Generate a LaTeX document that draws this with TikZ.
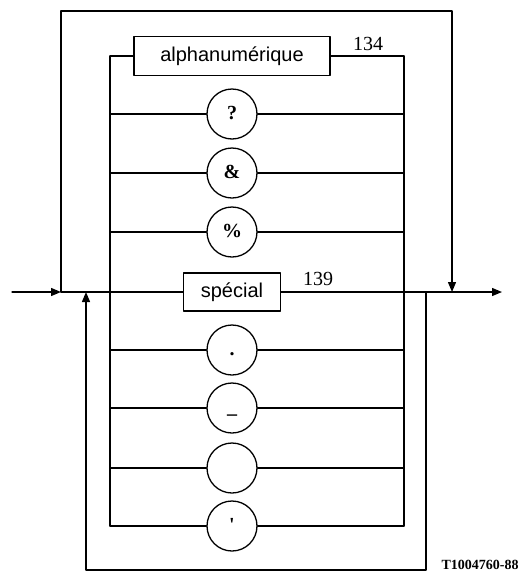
\documentclass[tikz,border=0pt]{standalone}
\usepackage{fontspec}
\setmainfont{Liberation Serif}
\setsansfont{Liberation Sans}
\usetikzlibrary{arrows.meta}

\begin{document}
\begin{tikzpicture}[x=1pt,y=-1pt,line cap=round,line join=round,line width=1.3pt,
  >={Triangle[length=10pt,width=8pt]},
  term/.style={draw,circle,minimum size=50pt,inner sep=0pt,text height=14pt,text depth=4pt,
    font=\fontsize{20}{20}\selectfont\bfseries},
  nonterm/.style={draw,rectangle,inner sep=0pt,font=\sffamily\fontsize{20}{20}\selectfont},
  refnum/.style={inner sep=0pt,font=\fontsize{20}{20}\selectfont}]
  \useasboundingbox (0,0) rectangle (520,579);
  \coordinate (In) at (12,292);
  \coordinate (Out) at (502,292);
  \coordinate (SL) at (61,292);
  \coordinate (ST) at (61,11);
  \coordinate (STR) at (452,11);
  \coordinate (SR) at (452,292);
  \coordinate (RL) at (86,292);
  \coordinate (RB) at (86,570);
  \coordinate (RBR) at (426,570);
  \coordinate (RR) at (426,292);
  \coordinate (AL) at (110,56);
  \coordinate (ALB) at (110,526);
  \coordinate (AR) at (404,56);
  \coordinate (ARB) at (404,526);
  \node[nonterm,minimum width=196pt,minimum height=39pt] (A) at (232,56) {alphanumérique};
  \node[nonterm,minimum width=97pt,minimum height=38pt] (S) at (232,292) {spécial};
  \node[refnum] (nA) at (368,44) {134};
  \node[refnum] (nS) at (318,279) {139};
  \node[term] (q) at (232,114) {?};
  \node[term] (amp) at (232,173) {\&};
  \node[term] (pct) at (232,232) {\%};
  \node[term] (dot) at (232,350) {.};
  \node[term] (us) at (232,408) {\_};
  \node[term] (sp) at (232,468) {};
  \node[term] (ap) at (232,526) {\textquotesingle};
  \node[inner sep=0pt,font=\fontsize{14}{14}\selectfont\bfseries] (code) at (480,565) {T1004760-88};
  \draw[->] (In) -- (SL);
  \draw (SL) -- (S);
  \draw[->] (S) -- (Out);
  \draw[->] (SL) -- (ST) -- (STR) -- (SR);
  \draw[->] (RR) -- (RBR) -- (RB) -- (RL);
  \draw (AL) -- (ALB);
  \draw (AR) -- (ARB);
  \draw (AL) -- (A) -- (AR);
  \foreach \t in {q,amp,pct,dot,us,sp,ap}
    \draw (AL |- \t) -- (\t) -- (AR |- \t);
\end{tikzpicture}
\end{document}
